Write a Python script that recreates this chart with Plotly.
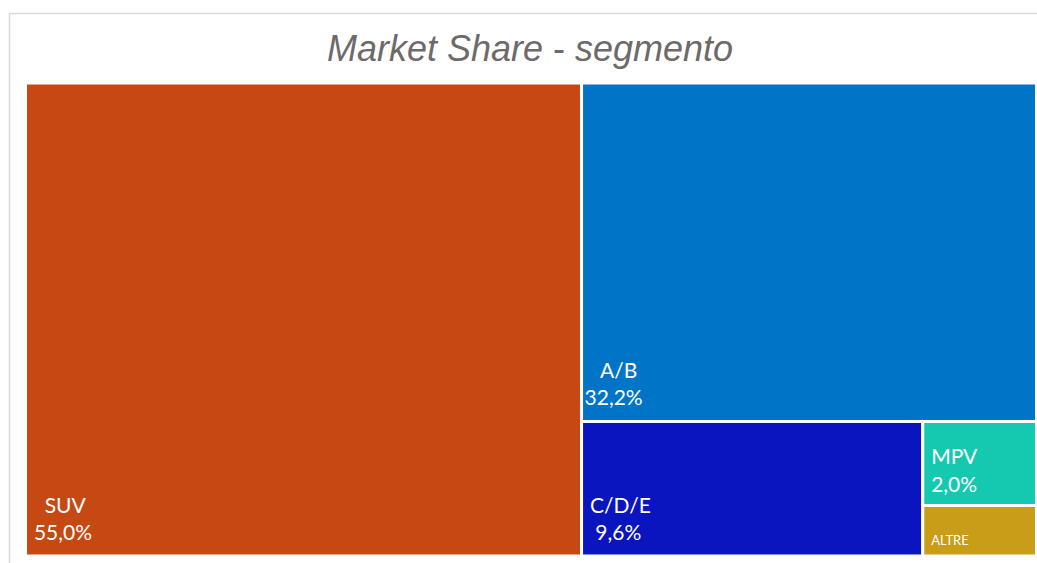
import plotly.graph_objects as go

segments = ["SUV", "A/B", "C/D/E", "MPV", "ALTRE"]
shares = [55.0, 32.2, 9.6, 2.0, 1.2]
share_labels = ["55,0%", "32,2%", "9,6%", "2,0%", ""]
colors = ["#C64914", "#0075C8", "#0A15C0", "#14C9B0", "#C99D18"]

# non-breaking-space indents (name line, value line) so the two lines look centred
indents = [(3, 1), (3, 0), (1, 2), (1, 1), (1, 0)]
# size of an invisible trailing spacer that lifts each label off the tile bottom
spacers = [62, 62, 62, 50, 36]

W, H = 1037, 563
NB = "\u00a0"
texts = []
for s, p, (a, b), sp in zip(segments, share_labels, indents, spacers):
    spacer = f"<span style='font-size:{sp}px'>{NB}</span>"
    if p:
        texts.append(f"{NB * a}{s}<br>{NB * b}{p}{spacer}")
    else:
        texts.append(f"{NB * a}<span style='font-size:13px'>{s}</span>{spacer}")

fig = go.Figure(go.Treemap(
    labels=segments,
    parents=[""] * len(segments),
    values=shares,
    text=texts,
    texttemplate="%{text}",
    textposition="bottom left",
    sort=True,
    tiling=dict(packing="squarify", squarifyratio=1, pad=0),
    pathbar=dict(visible=False),
    marker=dict(colors=colors, line=dict(color="white", width=3),
                pad=dict(t=0, l=0, r=0, b=0)),
    textfont=dict(family="Lato, Open Sans, sans-serif", size=21, color="white"),
    hoverinfo="label+value",
    domain=dict(x=[25.5 / W, 1036.5 / W], y=[(H - 556) / H, (H - 83) / H]),
))

fig.update_layout(
    width=W, height=H,
    margin=dict(l=0, r=0, t=0, b=0),
    paper_bgcolor="white",
    title=dict(
        text="<i>Market Share</i> - <i>segmento</i>",
        x=530 / W, xanchor="center", y=1 - 48 / H, yanchor="middle",
        font=dict(family="Liberation Sans, Arial, sans-serif", size=36, color="#6E6A6A"),
    ),
    shapes=[dict(type="rect", xref="paper", yref="paper",
                 x0=9.5 / W, x1=1.2, y0=-0.2, y1=1 - 13.5 / H,
                 line=dict(color="#D9D9D9", width=1.5), layer="below")],
)

fig.write_html("out.html", config={"displayModeBar": False},
               post_script="document.body.style.margin='0';")
